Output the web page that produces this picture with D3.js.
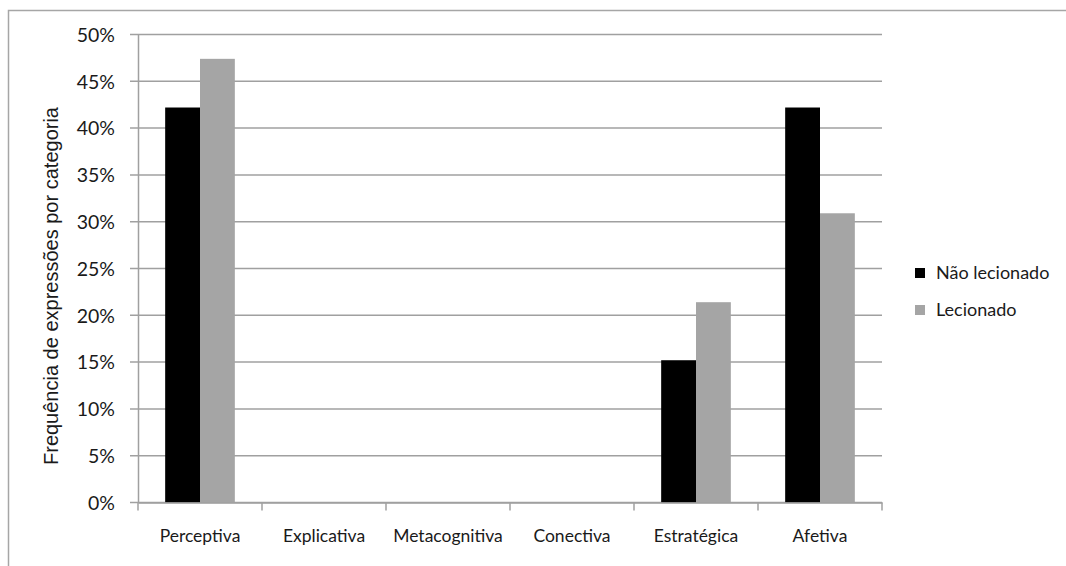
<!DOCTYPE html>
<html><head><meta charset="utf-8">
<script src="https://cdn.jsdelivr.net/npm/d3@7"></script>
<style>html,body{margin:0;padding:0;background:#fff;}</style>
</head><body>
<svg id="chart" width="1066" height="566"></svg>
<script>
const categories = ["Perceptiva","Explicativa","Metacognitiva","Conectiva","Estratégica","Afetiva"];
const seriesNames = ["Não lecionado","Lecionado"];
const naoLecionado = [42.2, 0, 0, 0, 15.2, 42.2];
const lecionado = [47.4, 0, 0, 0, 21.4, 30.9];
const yTicks = [0,5,10,15,20,25,30,35,40,45,50];
const colors = ["#000000","#a5a5a5"];
const yTitle = "Frequência de expressões por categoria";

const svg = d3.select("#chart");
const font = "Lato, 'Open Sans', sans-serif";
svg.append("rect").attr("x",8.5).attr("y",10.5).attr("width",1100).attr("height",600)
  .attr("fill","#fff").attr("stroke","#a6a6a6").attr("stroke-width",1.5);

const L=138, R=882, T=34.5, B=502.5;
const x0 = d3.scaleBand().domain(categories).range([L,R]).padding(0);
const x1 = d3.scaleBand().domain(seriesNames).range([0,x0.bandwidth()]).paddingInner(0).paddingOuter(0.78);
const y = d3.scaleLinear().domain([0,50]).range([B,T]);

// gridlines
svg.append("g").selectAll("line").data(yTicks).join("line")
  .attr("x1",L-8).attr("x2",R).attr("y1",d=>y(d)).attr("y2",d=>y(d))
  .attr("stroke","#a0a0a0").attr("stroke-width",1.5);

// y axis
const yAxis = svg.append("g").attr("transform",`translate(${L},0)`)
  .call(d3.axisLeft(y).tickValues(yTicks).tickFormat(d=>d+"%").tickSize(0).tickPadding(23));
yAxis.select(".domain").attr("stroke","#a0a0a0").attr("stroke-width",1.5);
yAxis.selectAll("text").attr("font-family",font).attr("font-size",19.5).attr("fill","#1a1a1a").attr("dy","0.35em");

// bars
const data = categories.map((c,i)=>({cat:c, vals:[naoLecionado[i], lecionado[i]]}));
const g = svg.append("g");
data.forEach(d=>{
  d.vals.forEach((v,j)=>{
    if(v<=0) return;
    g.append("rect")
      .attr("x", x0(d.cat)+x1(seriesNames[j]))
      .attr("y", y(v))
      .attr("width", x1.bandwidth())
      .attr("height", y(0)-y(v))
      .attr("fill", colors[j]);
  });
});

// x axis
const xAxis = svg.append("g").attr("transform",`translate(0,${B})`)
  .call(d3.axisBottom(x0).tickSize(0).tickPadding(27));
xAxis.select(".domain").attr("stroke","#a0a0a0").attr("stroke-width",1.5);
xAxis.selectAll("text").attr("font-family",font).attr("font-size",17.5).attr("fill","#1a1a1a");
// category boundary ticks
const bounds = categories.map(c=>x0(c)).concat([R]);
svg.append("g").selectAll("line").data(bounds).join("line")
  .attr("x1",d=>d).attr("x2",d=>d).attr("y1",B).attr("y2",B+8)
  .attr("stroke","#a0a0a0").attr("stroke-width",1.5);

// y title
svg.append("text").attr("transform","translate(58,286) rotate(-90)")
  .attr("text-anchor","middle").attr("font-family","'Liberation Sans', Arial, sans-serif")
  .attr("font-size",20).attr("fill","#1a1a1a").text(yTitle);

// legend
const leg = svg.append("g");
seriesNames.forEach((s,i)=>{
  const yy = 268 + i*37;
  leg.append("rect").attr("x",915).attr("y",yy).attr("width",10).attr("height",10).attr("fill",colors[i]);
  leg.append("text").attr("x",936).attr("y",yy+5).attr("dy","0.35em")
    .attr("font-family",font).attr("font-size",18).attr("fill","#1a1a1a").text(s);
});
</script>
</body></html>
